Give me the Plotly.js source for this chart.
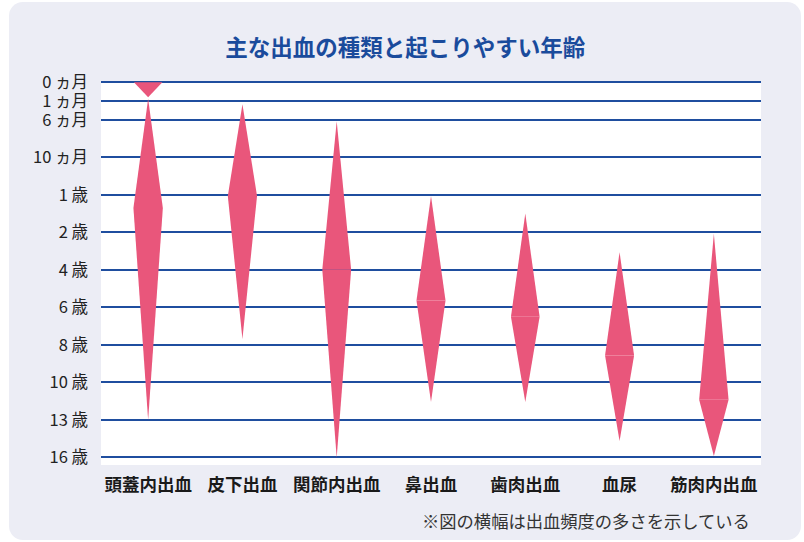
<!DOCTYPE html>
<html>
<head>
<meta charset="utf-8">
<script src="https://cdn.plot.ly/plotly-3.0.1.min.js"></script>
<style>
  html, body { margin: 0; padding: 0; background: #ffffff; }
  #wrap { position: relative; width: 804px; height: 542px; }
  #card { position: absolute; left: 9px; top: 2px; width: 792px; height: 538px;
          background: #ecedf5; border-radius: 14px; }
  #chart { position: absolute; left: 0; top: 0; width: 804px; height: 542px; }
</style>
</head>
<body>
<div id="wrap"><div id="card"></div><div id="chart"></div></div>
<script>
// Categories (bleeding types)
const categories = ['頭蓋内出血', '皮下出血', '関節内出血', '鼻出血', '歯肉出血', '血尿', '筋肉内出血'];
// Age axis tick labels and their positions on the (non-linear) age scale
const ageLabels = ['0 ヵ月', '1 ヵ月', '6 ヵ月', '10 ヵ月', '1 歳', '2 歳', '4 歳', '6 歳', '8 歳', '10 歳', '13 歳', '16 歳'];
const agePos = [0, 0.5, 1, 2, 3, 4, 5, 6, 7, 8, 9, 10];
// Age range for each bleeding type (on the age scale)
const startAge = [0.44, 0.59, 1.04, 3.03, 3.5, 4.53, 4.04];
const peakAge  = [3.35, 3.03, 5.0, 5.82, 6.25, 7.28, 8.46];
const endAge   = [9.0, 6.84, 10.0, 8.52, 8.52, 9.56, 9.96];
// Relative frequency (half width of the diamond, in category units)
const freqHalf = [0.156, 0.155, 0.153, 0.154, 0.152, 0.154, 0.156];
// Neonatal intracranial bleeding (triangle at birth)
const neoStart = 0, neoTip = 0.40, neoHalf = 0.151, neoCat = 0;

const color = '#e9567b';
const traces = [];
categories.forEach((c, i) => {
  // upper half
  traces.push({
    type: 'scatter', mode: 'lines', fill: 'toself', fillcolor: color,
    line: {width: 0, color: color}, hoverinfo: 'skip', showlegend: false,
    x: [i, i + freqHalf[i], i - freqHalf[i], i],
    y: [startAge[i], peakAge[i], peakAge[i], startAge[i]]
  });
  // lower half
  traces.push({
    type: 'scatter', mode: 'lines', fill: 'toself', fillcolor: color,
    line: {width: 0, color: color}, hoverinfo: 'skip', showlegend: false,
    x: [i - freqHalf[i], i + freqHalf[i], i, i - freqHalf[i]],
    y: [peakAge[i], peakAge[i], endAge[i], peakAge[i]]
  });
});
traces.push({
  type: 'scatter', mode: 'lines', fill: 'toself', fillcolor: color,
  line: {width: 0, color: color}, hoverinfo: 'skip', showlegend: false,
  x: [neoCat - neoHalf, neoCat + neoHalf, neoCat, neoCat - neoHalf],
  y: [neoStart, neoStart, neoTip, neoStart]
});

const gridColor = '#1f4e9f';
const layout = {
  width: 804, height: 542,
  margin: {l: 101, r: 43, t: 82, b: 77, pad: 0},
  paper_bgcolor: 'rgba(0,0,0,0)',
  plot_bgcolor: '#ffffff',
  font: {family: '"Noto Sans CJK JP", "Noto Sans", sans-serif', color: '#222222'},
  title: {
    text: '主な出血の種類と起こりやすい年齢',
    font: {size: 22.5, color: '#1a4b9c', weight: 'bold', family: '"Noto Sans CJK JP", sans-serif'},
    x: 0.504, xref: 'container', xanchor: 'center',
    y: 1 - 48 / 542, yref: 'container', yanchor: 'middle'
  },
  xaxis: {
    range: [-0.5, 6.5],
    tickmode: 'array',
    tickvals: categories.map((c, i) => i),
    ticktext: categories,
    showgrid: false, zeroline: false, showline: false,
    ticks: '',
    tickfont: {size: 17.5, color: '#1a1a1a', weight: 'bold'},
    ticklabelstandoff: 7,
    fixedrange: true
  },
  yaxis: {
    range: [10.2, -0.005],
    tickmode: 'array',
    tickvals: agePos,
    ticktext: ageLabels,
    showgrid: true, gridcolor: gridColor, gridwidth: 2,
    zeroline: true, zerolinecolor: gridColor, zerolinewidth: 2,
    showline: false, ticks: '',
    tickfont: {size: 16.5, color: '#222222'},
    ticklabelstandoff: 12,
    fixedrange: true
  },
  annotations: [{
    text: '※図の横幅は出血頻度の多さを示している',
    xref: 'paper', yref: 'paper',
    x: (752 - 101) / (804 - 101 - 43), xanchor: 'right',
    y: -(520 - 465) / (465 - 82), yanchor: 'middle',
    showarrow: false,
    font: {size: 17.3, color: '#333333'}
  }]
};

Plotly.newPlot('chart', traces, layout, {staticPlot: true, displayModeBar: false});
</script>
</body>
</html>
